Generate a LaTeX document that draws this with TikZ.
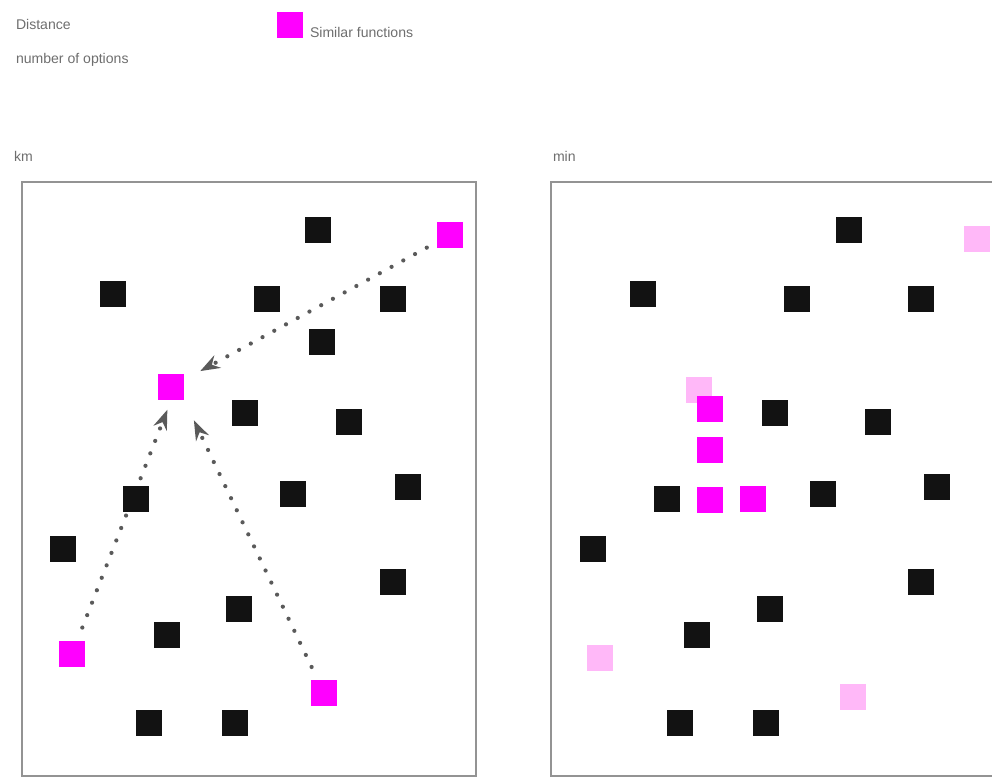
\documentclass[tikz,border=0pt]{standalone}
\usepackage{fontspec}
\setmainfont{Liberation Sans}
\usetikzlibrary{arrows.meta, positioning, backgrounds}
\definecolor{simmag}{HTML}{FF00FF}
\definecolor{simfaint}{HTML}{FFB8F8}
\definecolor{labelgray}{HTML}{6E6E6E}
\definecolor{hopgray}{HTML}{5A5A5A}

\begin{document}
\begin{tikzpicture}[
  x=0.025cm, y=-0.025cm,
  every node/.style={inner sep=0pt, outer sep=0pt},
  spot/.style={minimum size=0.67cm, fill=black!93},
  simspot/.style={spot, fill=simmag},
  ghost/.style={spot, fill=simfaint},
  panel/.style={draw=gray!85, line width=1pt},
  caption/.style={font=\fontsize{10}{11}\selectfont, text=labelgray, anchor=base west},
  hop/.style={draw=hopgray, line width=3pt, line cap=round, dash pattern=on 0pt off 9.5pt, -{Stealth[length=14pt, width=10pt]}}
]
\clip (0,0) rectangle (992,779);

% header
\node[caption] (dist) at (16,29) {Distance};
\node[caption] (opts) at (16,63) {number of options};
\node[simspot, minimum size=0.65cm] (key) at (290,25) {};
\node[caption] (keytext) at (310,37) {Similar functions};

% km panel
\node[caption] (km) at (14,161) {km};
\draw[panel] (22,182) rectangle (476,776);
\foreach \x/\y [count=\k] in {318/230, 113/294, 267/299, 393/299, 322/342, 245/413, 349/422,
  136/499, 293/494, 408/487, 63/549, 393/582, 239/609, 167/635, 149/723, 235/723}
  \node[spot] (kmb\k) at (\x,\y) {};
\node[simspot] (far) at (450,235) {};
\node[simspot] (hub) at (171,387) {};
\node[simspot] (low) at (72,654) {};
\node[simspot] (mid) at (324,693) {};
\begin{scope}[on background layer]
  \draw[hop, shorten <=0.28cm, shorten >=0.45cm] (far) -- (hub);
  \draw[hop, shorten <=0.35cm, shorten >=0.25cm] (low) -- (hub.south);
  \draw[hop, shorten <=0.35cm, shorten >=0.55cm] (mid) -- (hub.south east);
\end{scope}

% min panel
\node[caption] (min) at (553,161) {min};
\draw[panel] (551,182) rectangle (1006,776);
\foreach \x/\y [count=\k] in {849/230, 643/294, 797/299, 921/299, 775/413, 878/422,
  667/499, 823/494, 937/487, 593/549, 921/582, 770/609, 697/635, 680/723, 766/723}
  \node[spot] (minb\k) at (\x,\y) {};
\node[ghost] (gfar) at (977,239) {};
\node[ghost] (ghub) at (699,390) {};
\node[ghost] (glow) at (600,658) {};
\node[ghost] (gmid) at (853,697) {};
\node[simspot] (c1) at (710,409) {};
\node[simspot] (c2) at (710,450) {};
\node[simspot] (c3) at (710,500) {};
\node[simspot] (c4) at (753,499) {};
\end{tikzpicture}
\end{document}
